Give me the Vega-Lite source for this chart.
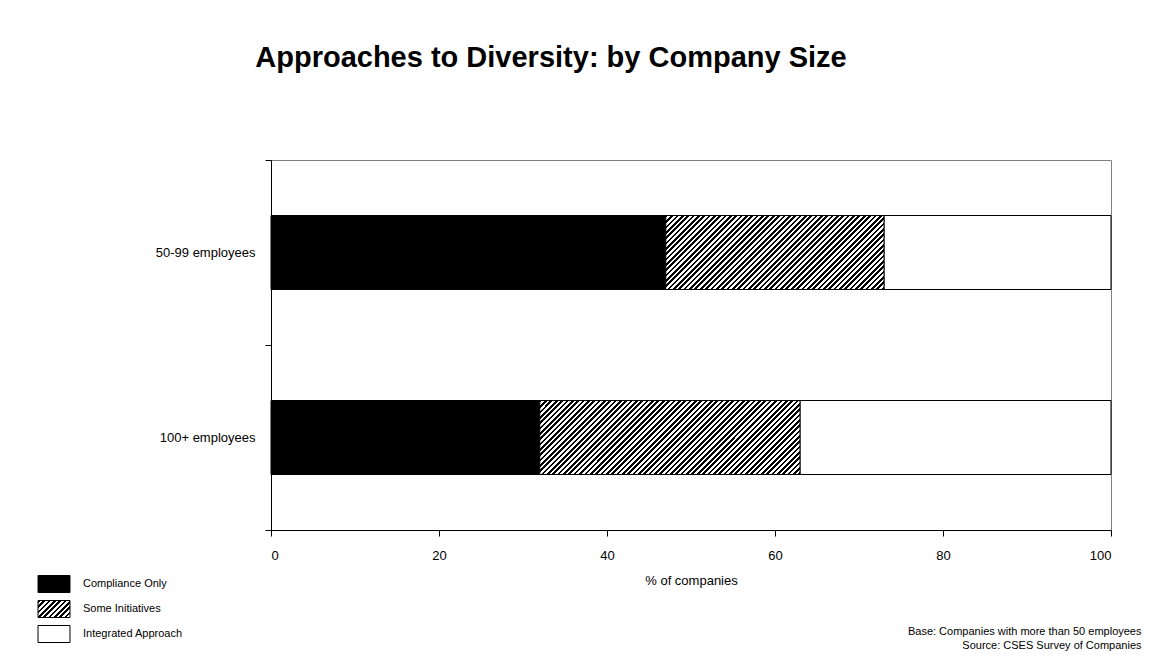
{
  "$schema": "https://vega.github.io/schema/vega-lite/v6.json",
  "autosize": "none",
  "width": 840,
  "height": 370,
  "padding": {"left": 271, "top": 160, "right": 43, "bottom": 132},
  "background": "white",
  "title": {
    "text": "Approaches to Diversity: by Company Size",
    "font": "Liberation Sans",
    "fontSize": 29,
    "fontWeight": "bold",
    "color": "#000",
    "anchor": "middle",
    "frame": "group",
    "dx": -140,
    "baseline": "alphabetic",
    "offset": 58
  },
  "data": {
    "values": [
      {"group": "50-99 employees", "approach": "Compliance Only", "rank": 1, "pct": 47},
      {"group": "50-99 employees", "approach": "Some Initiatives", "rank": 2, "pct": 26},
      {"group": "50-99 employees", "approach": "Integrated Approach", "rank": 3, "pct": 27},
      {"group": "100+ employees", "approach": "Compliance Only", "rank": 1, "pct": 32},
      {"group": "100+ employees", "approach": "Some Initiatives", "rank": 2, "pct": 31},
      {"group": "100+ employees", "approach": "Integrated Approach", "rank": 3, "pct": 37}
    ]
  },
  "mark": {"type": "bar", "height": {"band": 0.4}, "strokeWidth": 1},
  "encoding": {
    "y": {
      "field": "group",
      "type": "nominal",
      "sort": ["50-99 employees", "100+ employees"],
      "scale": {"paddingInner": 0, "paddingOuter": 0},
      "axis": {
        "title": ["Base: Companies with more than 50 employees", "Source: CSES Survey of Companies"],
        "titleAngle": 0,
        "titleAlign": "right",
        "titleBaseline": "top",
        "titleX": 870,
        "titleY": 465,
        "titleFontSize": 11,
        "titleLineHeight": 14,
        "labelFontSize": 13,
        "labelPadding": 10,
        "tickSize": 6,
        "tickBand": "extent"
      }
    },
    "x": {
      "field": "pct",
      "type": "quantitative",
      "stack": "zero",
      "scale": {"domain": [0, 100], "nice": false},
      "axis": {
        "title": "% of companies",
        "values": [0, 20, 40, 60, 80, 100],
        "labelFontSize": 13,
        "labelPadding": 13,
        "tickSize": 6,
        "titleFontSize": 13,
        "titlePadding": 12
      }
    },
    "order": {"field": "rank", "type": "quantitative"},
    "stroke": {
      "field": "approach",
      "type": "nominal",
      "sort": ["Compliance Only", "Some Initiatives", "Integrated Approach"],
      "scale": {
        "domain": ["Compliance Only", "Some Initiatives", "Integrated Approach"],
        "range": ["#000", "#000", "#000"]
      },
      "legend": {
        "orient": "none",
        "legendX": -226,
        "legendY": 415,
        "title": null,
        "padding": 0,
        "symbolType": "M-1.88,-1H1.88V1H-1.88Z",
        "symbolSize": 289,
        "symbolStrokeWidth": 1,
        "symbolOpacity": 1,
        "labelFontSize": 11,
        "labelColor": "#000",
        "labelOffset": 20,
        "rowPadding": 3
      }
    },
    "fill": {
      "field": "approach",
      "type": "nominal",
      "sort": ["Compliance Only", "Some Initiatives", "Integrated Approach"],
      "scale": {
        "domain": ["Compliance Only", "Some Initiatives", "Integrated Approach"],
        "range": [
          "#000",
          {"expr": "{gradient: 'linear', x1: 0, y1: 0, x2: 8.14, y2: 4.32, stops: [{offset: 0, color: '#000'}, {offset: 0.008, color: '#000'}, {offset: 0.008, color: '#fff'}, {offset: 0.016, color: '#fff'}, {offset: 0.016, color: '#000'}, {offset: 0.024, color: '#000'}, {offset: 0.024, color: '#fff'}, {offset: 0.032, color: '#fff'}, {offset: 0.032, color: '#000'}, {offset: 0.04, color: '#000'}, {offset: 0.04, color: '#fff'}, {offset: 0.048, color: '#fff'}, {offset: 0.048, color: '#000'}, {offset: 0.056, color: '#000'}, {offset: 0.056, color: '#fff'}, {offset: 0.064, color: '#fff'}, {offset: 0.064, color: '#000'}, {offset: 0.072, color: '#000'}, {offset: 0.072, color: '#fff'}, {offset: 0.08, color: '#fff'}, {offset: 0.08, color: '#000'}, {offset: 0.088, color: '#000'}, {offset: 0.088, color: '#fff'}, {offset: 0.096, color: '#fff'}, {offset: 0.096, color: '#000'}, {offset: 0.104, color: '#000'}, {offset: 0.104, color: '#fff'}, {offset: 0.112, color: '#fff'}, {offset: 0.112, color: '#000'}, {offset: 0.12, color: '#000'}, {offset: 0.12, color: '#fff'}, {offset: 0.128, color: '#fff'}, {offset: 0.128, color: '#000'}, {offset: 0.136, color: '#000'}, {offset: 0.136, color: '#fff'}, {offset: 0.144, color: '#fff'}, {offset: 0.144, color: '#000'}, {offset: 0.152, color: '#000'}, {offset: 0.152, color: '#fff'}, {offset: 0.16, color: '#fff'}]}"},
          "#fff"
        ]
      },
      "condition": [
        {
          "test": "datum.approach === 'Some Initiatives' && datum.group === '50-99 employees'",
          "value": {"gradient": "linear", "x1": 0, "y1": 0, "x2": 1.374, "y2": 0.4656, "stops": [
            {"offset":0,"color":"#000"},
            {"offset":0.008,"color":"#000"},{"offset":0.008,"color":"#fff"},
            {"offset":0.016,"color":"#fff"},{"offset":0.016,"color":"#000"},
            {"offset":0.024,"color":"#000"},{"offset":0.024,"color":"#fff"},
            {"offset":0.032,"color":"#fff"},{"offset":0.032,"color":"#000"},
            {"offset":0.04,"color":"#000"},{"offset":0.04,"color":"#fff"},
            {"offset":0.048,"color":"#fff"},{"offset":0.048,"color":"#000"},
            {"offset":0.056,"color":"#000"},{"offset":0.056,"color":"#fff"},
            {"offset":0.064,"color":"#fff"},{"offset":0.064,"color":"#000"},
            {"offset":0.072,"color":"#000"},{"offset":0.072,"color":"#fff"},
            {"offset":0.08,"color":"#fff"},{"offset":0.08,"color":"#000"},
            {"offset":0.088,"color":"#000"},{"offset":0.088,"color":"#fff"},
            {"offset":0.096,"color":"#fff"},{"offset":0.096,"color":"#000"},
            {"offset":0.104,"color":"#000"},{"offset":0.104,"color":"#fff"},
            {"offset":0.112,"color":"#fff"},{"offset":0.112,"color":"#000"},
            {"offset":0.12,"color":"#000"},{"offset":0.12,"color":"#fff"},
            {"offset":0.128,"color":"#fff"},{"offset":0.128,"color":"#000"},
            {"offset":0.136,"color":"#000"},{"offset":0.136,"color":"#fff"},
            {"offset":0.144,"color":"#fff"},{"offset":0.144,"color":"#000"},
            {"offset":0.152,"color":"#000"},{"offset":0.152,"color":"#fff"},
            {"offset":0.16,"color":"#fff"},{"offset":0.16,"color":"#000"},
            {"offset":0.168,"color":"#000"},{"offset":0.168,"color":"#fff"},
            {"offset":0.176,"color":"#fff"},{"offset":0.176,"color":"#000"},
            {"offset":0.184,"color":"#000"},{"offset":0.184,"color":"#fff"},
            {"offset":0.192,"color":"#fff"},{"offset":0.192,"color":"#000"},
            {"offset":0.2,"color":"#000"},{"offset":0.2,"color":"#fff"},
            {"offset":0.208,"color":"#fff"},{"offset":0.208,"color":"#000"},
            {"offset":0.216,"color":"#000"},{"offset":0.216,"color":"#fff"},
            {"offset":0.224,"color":"#fff"},{"offset":0.224,"color":"#000"},
            {"offset":0.232,"color":"#000"},{"offset":0.232,"color":"#fff"},
            {"offset":0.24,"color":"#fff"},{"offset":0.24,"color":"#000"},
            {"offset":0.248,"color":"#000"},{"offset":0.248,"color":"#fff"},
            {"offset":0.256,"color":"#fff"},{"offset":0.256,"color":"#000"},
            {"offset":0.264,"color":"#000"},{"offset":0.264,"color":"#fff"},
            {"offset":0.272,"color":"#fff"},{"offset":0.272,"color":"#000"},
            {"offset":0.28,"color":"#000"},{"offset":0.28,"color":"#fff"},
            {"offset":0.288,"color":"#fff"},{"offset":0.288,"color":"#000"},
            {"offset":0.296,"color":"#000"},{"offset":0.296,"color":"#fff"},
            {"offset":0.304,"color":"#fff"},{"offset":0.304,"color":"#000"},
            {"offset":0.312,"color":"#000"},{"offset":0.312,"color":"#fff"},
            {"offset":0.32,"color":"#fff"},{"offset":0.32,"color":"#000"},
            {"offset":0.328,"color":"#000"},{"offset":0.328,"color":"#fff"},
            {"offset":0.336,"color":"#fff"},{"offset":0.336,"color":"#000"},
            {"offset":0.344,"color":"#000"},{"offset":0.344,"color":"#fff"},
            {"offset":0.352,"color":"#fff"},{"offset":0.352,"color":"#000"},
            {"offset":0.36,"color":"#000"},{"offset":0.36,"color":"#fff"},
            {"offset":0.368,"color":"#fff"},{"offset":0.368,"color":"#000"},
            {"offset":0.376,"color":"#000"},{"offset":0.376,"color":"#fff"},
            {"offset":0.384,"color":"#fff"},{"offset":0.384,"color":"#000"},
            {"offset":0.392,"color":"#000"},{"offset":0.392,"color":"#fff"},
            {"offset":0.4,"color":"#fff"},{"offset":0.4,"color":"#000"},
            {"offset":0.408,"color":"#000"},{"offset":0.408,"color":"#fff"},
            {"offset":0.416,"color":"#fff"},{"offset":0.416,"color":"#000"},
            {"offset":0.424,"color":"#000"},{"offset":0.424,"color":"#fff"},
            {"offset":0.432,"color":"#fff"},{"offset":0.432,"color":"#000"},
            {"offset":0.44,"color":"#000"},{"offset":0.44,"color":"#fff"},
            {"offset":0.448,"color":"#fff"},{"offset":0.448,"color":"#000"},
            {"offset":0.456,"color":"#000"},{"offset":0.456,"color":"#fff"},
            {"offset":0.464,"color":"#fff"},{"offset":0.464,"color":"#000"},
            {"offset":0.472,"color":"#000"},{"offset":0.472,"color":"#fff"},
            {"offset":0.48,"color":"#fff"},{"offset":0.48,"color":"#000"},
            {"offset":0.488,"color":"#000"},{"offset":0.488,"color":"#fff"},
            {"offset":0.496,"color":"#fff"},{"offset":0.496,"color":"#000"},
            {"offset":0.504,"color":"#000"},{"offset":0.504,"color":"#fff"},
            {"offset":0.512,"color":"#fff"},{"offset":0.512,"color":"#000"},
            {"offset":0.52,"color":"#000"},{"offset":0.52,"color":"#fff"},
            {"offset":0.528,"color":"#fff"},{"offset":0.528,"color":"#000"},
            {"offset":0.536,"color":"#000"},{"offset":0.536,"color":"#fff"},
            {"offset":0.544,"color":"#fff"},{"offset":0.544,"color":"#000"},
            {"offset":0.552,"color":"#000"},{"offset":0.552,"color":"#fff"},
            {"offset":0.56,"color":"#fff"},{"offset":0.56,"color":"#000"},
            {"offset":0.568,"color":"#000"},{"offset":0.568,"color":"#fff"},
            {"offset":0.576,"color":"#fff"},{"offset":0.576,"color":"#000"},
            {"offset":0.584,"color":"#000"},{"offset":0.584,"color":"#fff"},
            {"offset":0.592,"color":"#fff"},{"offset":0.592,"color":"#000"},
            {"offset":0.6,"color":"#000"},{"offset":0.6,"color":"#fff"},
            {"offset":0.608,"color":"#fff"},{"offset":0.608,"color":"#000"},
            {"offset":0.616,"color":"#000"},{"offset":0.616,"color":"#fff"},
            {"offset":0.624,"color":"#fff"},{"offset":0.624,"color":"#000"},
            {"offset":0.632,"color":"#000"},{"offset":0.632,"color":"#fff"},
            {"offset":0.64,"color":"#fff"},{"offset":0.64,"color":"#000"},
            {"offset":0.648,"color":"#000"},{"offset":0.648,"color":"#fff"},
            {"offset":0.656,"color":"#fff"},{"offset":0.656,"color":"#000"},
            {"offset":0.664,"color":"#000"},{"offset":0.664,"color":"#fff"},
            {"offset":0.672,"color":"#fff"},{"offset":0.672,"color":"#000"},
            {"offset":0.68,"color":"#000"},{"offset":0.68,"color":"#fff"},
            {"offset":0.688,"color":"#fff"},{"offset":0.688,"color":"#000"},
            {"offset":0.696,"color":"#000"},{"offset":0.696,"color":"#fff"},
            {"offset":0.704,"color":"#fff"},{"offset":0.704,"color":"#000"},
            {"offset":0.712,"color":"#000"},{"offset":0.712,"color":"#fff"},
            {"offset":0.72,"color":"#fff"},{"offset":0.72,"color":"#000"},
            {"offset":0.728,"color":"#000"},{"offset":0.728,"color":"#fff"},
            {"offset":0.736,"color":"#fff"},{"offset":0.736,"color":"#000"},
            {"offset":0.744,"color":"#000"},{"offset":0.744,"color":"#fff"},
            {"offset":0.752,"color":"#fff"},{"offset":0.752,"color":"#000"},
            {"offset":0.76,"color":"#000"},{"offset":0.76,"color":"#fff"},
            {"offset":0.768,"color":"#fff"},{"offset":0.768,"color":"#000"},
            {"offset":0.776,"color":"#000"},{"offset":0.776,"color":"#fff"},
            {"offset":0.784,"color":"#fff"},{"offset":0.784,"color":"#000"},
            {"offset":0.792,"color":"#000"},{"offset":0.792,"color":"#fff"},
            {"offset":0.8,"color":"#fff"},{"offset":0.8,"color":"#000"},
            {"offset":0.808,"color":"#000"},{"offset":0.808,"color":"#fff"},
            {"offset":0.816,"color":"#fff"},{"offset":0.816,"color":"#000"},
            {"offset":0.824,"color":"#000"},{"offset":0.824,"color":"#fff"},
            {"offset":0.832,"color":"#fff"},{"offset":0.832,"color":"#000"},
            {"offset":0.84,"color":"#000"},{"offset":0.84,"color":"#fff"},
            {"offset":0.848,"color":"#fff"},{"offset":0.848,"color":"#000"},
            {"offset":0.856,"color":"#000"},{"offset":0.856,"color":"#fff"},
            {"offset":0.864,"color":"#fff"},{"offset":0.864,"color":"#000"},
            {"offset":0.872,"color":"#000"},{"offset":0.872,"color":"#fff"},
            {"offset":0.88,"color":"#fff"},{"offset":0.88,"color":"#000"},
            {"offset":0.888,"color":"#000"},{"offset":0.888,"color":"#fff"},
            {"offset":0.896,"color":"#fff"}
          ]}
        },
        {
          "test": "datum.approach === 'Some Initiatives' && datum.group === '100+ employees'",
          "value": {"gradient": "linear", "x1": 0, "y1": 0, "x2": 1.188, "y2": 0.3375, "stops": [
            {"offset":0,"color":"#000"},
            {"offset":0.008,"color":"#000"},{"offset":0.008,"color":"#fff"},
            {"offset":0.016,"color":"#fff"},{"offset":0.016,"color":"#000"},
            {"offset":0.024,"color":"#000"},{"offset":0.024,"color":"#fff"},
            {"offset":0.032,"color":"#fff"},{"offset":0.032,"color":"#000"},
            {"offset":0.04,"color":"#000"},{"offset":0.04,"color":"#fff"},
            {"offset":0.048,"color":"#fff"},{"offset":0.048,"color":"#000"},
            {"offset":0.056,"color":"#000"},{"offset":0.056,"color":"#fff"},
            {"offset":0.064,"color":"#fff"},{"offset":0.064,"color":"#000"},
            {"offset":0.072,"color":"#000"},{"offset":0.072,"color":"#fff"},
            {"offset":0.08,"color":"#fff"},{"offset":0.08,"color":"#000"},
            {"offset":0.088,"color":"#000"},{"offset":0.088,"color":"#fff"},
            {"offset":0.096,"color":"#fff"},{"offset":0.096,"color":"#000"},
            {"offset":0.104,"color":"#000"},{"offset":0.104,"color":"#fff"},
            {"offset":0.112,"color":"#fff"},{"offset":0.112,"color":"#000"},
            {"offset":0.12,"color":"#000"},{"offset":0.12,"color":"#fff"},
            {"offset":0.128,"color":"#fff"},{"offset":0.128,"color":"#000"},
            {"offset":0.136,"color":"#000"},{"offset":0.136,"color":"#fff"},
            {"offset":0.144,"color":"#fff"},{"offset":0.144,"color":"#000"},
            {"offset":0.152,"color":"#000"},{"offset":0.152,"color":"#fff"},
            {"offset":0.16,"color":"#fff"},{"offset":0.16,"color":"#000"},
            {"offset":0.168,"color":"#000"},{"offset":0.168,"color":"#fff"},
            {"offset":0.176,"color":"#fff"},{"offset":0.176,"color":"#000"},
            {"offset":0.184,"color":"#000"},{"offset":0.184,"color":"#fff"},
            {"offset":0.192,"color":"#fff"},{"offset":0.192,"color":"#000"},
            {"offset":0.2,"color":"#000"},{"offset":0.2,"color":"#fff"},
            {"offset":0.208,"color":"#fff"},{"offset":0.208,"color":"#000"},
            {"offset":0.216,"color":"#000"},{"offset":0.216,"color":"#fff"},
            {"offset":0.224,"color":"#fff"},{"offset":0.224,"color":"#000"},
            {"offset":0.232,"color":"#000"},{"offset":0.232,"color":"#fff"},
            {"offset":0.24,"color":"#fff"},{"offset":0.24,"color":"#000"},
            {"offset":0.248,"color":"#000"},{"offset":0.248,"color":"#fff"},
            {"offset":0.256,"color":"#fff"},{"offset":0.256,"color":"#000"},
            {"offset":0.264,"color":"#000"},{"offset":0.264,"color":"#fff"},
            {"offset":0.272,"color":"#fff"},{"offset":0.272,"color":"#000"},
            {"offset":0.28,"color":"#000"},{"offset":0.28,"color":"#fff"},
            {"offset":0.288,"color":"#fff"},{"offset":0.288,"color":"#000"},
            {"offset":0.296,"color":"#000"},{"offset":0.296,"color":"#fff"},
            {"offset":0.304,"color":"#fff"},{"offset":0.304,"color":"#000"},
            {"offset":0.312,"color":"#000"},{"offset":0.312,"color":"#fff"},
            {"offset":0.32,"color":"#fff"},{"offset":0.32,"color":"#000"},
            {"offset":0.328,"color":"#000"},{"offset":0.328,"color":"#fff"},
            {"offset":0.336,"color":"#fff"},{"offset":0.336,"color":"#000"},
            {"offset":0.344,"color":"#000"},{"offset":0.344,"color":"#fff"},
            {"offset":0.352,"color":"#fff"},{"offset":0.352,"color":"#000"},
            {"offset":0.36,"color":"#000"},{"offset":0.36,"color":"#fff"},
            {"offset":0.368,"color":"#fff"},{"offset":0.368,"color":"#000"},
            {"offset":0.376,"color":"#000"},{"offset":0.376,"color":"#fff"},
            {"offset":0.384,"color":"#fff"},{"offset":0.384,"color":"#000"},
            {"offset":0.392,"color":"#000"},{"offset":0.392,"color":"#fff"},
            {"offset":0.4,"color":"#fff"},{"offset":0.4,"color":"#000"},
            {"offset":0.408,"color":"#000"},{"offset":0.408,"color":"#fff"},
            {"offset":0.416,"color":"#fff"},{"offset":0.416,"color":"#000"},
            {"offset":0.424,"color":"#000"},{"offset":0.424,"color":"#fff"},
            {"offset":0.432,"color":"#fff"},{"offset":0.432,"color":"#000"},
            {"offset":0.44,"color":"#000"},{"offset":0.44,"color":"#fff"},
            {"offset":0.448,"color":"#fff"},{"offset":0.448,"color":"#000"},
            {"offset":0.456,"color":"#000"},{"offset":0.456,"color":"#fff"},
            {"offset":0.464,"color":"#fff"},{"offset":0.464,"color":"#000"},
            {"offset":0.472,"color":"#000"},{"offset":0.472,"color":"#fff"},
            {"offset":0.48,"color":"#fff"},{"offset":0.48,"color":"#000"},
            {"offset":0.488,"color":"#000"},{"offset":0.488,"color":"#fff"},
            {"offset":0.496,"color":"#fff"},{"offset":0.496,"color":"#000"},
            {"offset":0.504,"color":"#000"},{"offset":0.504,"color":"#fff"},
            {"offset":0.512,"color":"#fff"},{"offset":0.512,"color":"#000"},
            {"offset":0.52,"color":"#000"},{"offset":0.52,"color":"#fff"},
            {"offset":0.528,"color":"#fff"},{"offset":0.528,"color":"#000"},
            {"offset":0.536,"color":"#000"},{"offset":0.536,"color":"#fff"},
            {"offset":0.544,"color":"#fff"},{"offset":0.544,"color":"#000"},
            {"offset":0.552,"color":"#000"},{"offset":0.552,"color":"#fff"},
            {"offset":0.56,"color":"#fff"},{"offset":0.56,"color":"#000"},
            {"offset":0.568,"color":"#000"},{"offset":0.568,"color":"#fff"},
            {"offset":0.576,"color":"#fff"},{"offset":0.576,"color":"#000"},
            {"offset":0.584,"color":"#000"},{"offset":0.584,"color":"#fff"},
            {"offset":0.592,"color":"#fff"},{"offset":0.592,"color":"#000"},
            {"offset":0.6,"color":"#000"},{"offset":0.6,"color":"#fff"},
            {"offset":0.608,"color":"#fff"},{"offset":0.608,"color":"#000"},
            {"offset":0.616,"color":"#000"},{"offset":0.616,"color":"#fff"},
            {"offset":0.624,"color":"#fff"},{"offset":0.624,"color":"#000"},
            {"offset":0.632,"color":"#000"},{"offset":0.632,"color":"#fff"},
            {"offset":0.64,"color":"#fff"},{"offset":0.64,"color":"#000"},
            {"offset":0.648,"color":"#000"},{"offset":0.648,"color":"#fff"},
            {"offset":0.656,"color":"#fff"},{"offset":0.656,"color":"#000"},
            {"offset":0.664,"color":"#000"},{"offset":0.664,"color":"#fff"},
            {"offset":0.672,"color":"#fff"},{"offset":0.672,"color":"#000"},
            {"offset":0.68,"color":"#000"},{"offset":0.68,"color":"#fff"},
            {"offset":0.688,"color":"#fff"},{"offset":0.688,"color":"#000"},
            {"offset":0.696,"color":"#000"},{"offset":0.696,"color":"#fff"},
            {"offset":0.704,"color":"#fff"},{"offset":0.704,"color":"#000"},
            {"offset":0.712,"color":"#000"},{"offset":0.712,"color":"#fff"},
            {"offset":0.72,"color":"#fff"},{"offset":0.72,"color":"#000"},
            {"offset":0.728,"color":"#000"},{"offset":0.728,"color":"#fff"},
            {"offset":0.736,"color":"#fff"},{"offset":0.736,"color":"#000"},
            {"offset":0.744,"color":"#000"},{"offset":0.744,"color":"#fff"},
            {"offset":0.752,"color":"#fff"},{"offset":0.752,"color":"#000"},
            {"offset":0.76,"color":"#000"},{"offset":0.76,"color":"#fff"},
            {"offset":0.768,"color":"#fff"},{"offset":0.768,"color":"#000"},
            {"offset":0.776,"color":"#000"},{"offset":0.776,"color":"#fff"},
            {"offset":0.784,"color":"#fff"},{"offset":0.784,"color":"#000"},
            {"offset":0.792,"color":"#000"},{"offset":0.792,"color":"#fff"},
            {"offset":0.8,"color":"#fff"},{"offset":0.8,"color":"#000"},
            {"offset":0.808,"color":"#000"},{"offset":0.808,"color":"#fff"},
            {"offset":0.816,"color":"#fff"},{"offset":0.816,"color":"#000"},
            {"offset":0.824,"color":"#000"},{"offset":0.824,"color":"#fff"},
            {"offset":0.832,"color":"#fff"},{"offset":0.832,"color":"#000"},
            {"offset":0.84,"color":"#000"},{"offset":0.84,"color":"#fff"},
            {"offset":0.848,"color":"#fff"},{"offset":0.848,"color":"#000"},
            {"offset":0.856,"color":"#000"},{"offset":0.856,"color":"#fff"},
            {"offset":0.864,"color":"#fff"},{"offset":0.864,"color":"#000"},
            {"offset":0.872,"color":"#000"},{"offset":0.872,"color":"#fff"},
            {"offset":0.88,"color":"#fff"},{"offset":0.88,"color":"#000"},
            {"offset":0.888,"color":"#000"},{"offset":0.888,"color":"#fff"},
            {"offset":0.896,"color":"#fff"},{"offset":0.896,"color":"#000"},
            {"offset":0.904,"color":"#000"},{"offset":0.904,"color":"#fff"},
            {"offset":0.912,"color":"#fff"},{"offset":0.912,"color":"#000"},
            {"offset":0.92,"color":"#000"},{"offset":0.92,"color":"#fff"},
            {"offset":0.928,"color":"#fff"},{"offset":0.928,"color":"#000"},
            {"offset":0.936,"color":"#000"},{"offset":0.936,"color":"#fff"},
            {"offset":0.944,"color":"#fff"},{"offset":0.944,"color":"#000"},
            {"offset":0.952,"color":"#000"},{"offset":0.952,"color":"#fff"},
            {"offset":0.96,"color":"#fff"},{"offset":0.96,"color":"#000"},
            {"offset":0.968,"color":"#000"},{"offset":0.968,"color":"#fff"},
            {"offset":0.976,"color":"#fff"},{"offset":0.976,"color":"#000"},
            {"offset":0.984,"color":"#000"},{"offset":0.984,"color":"#fff"},
            {"offset":0.992,"color":"#fff"},{"offset":0.992,"color":"#000"},
            {"offset":1,"color":"#000"}
          ]}
        }
      ],
      "legend": {
        "orient": "none",
        "legendX": -226,
        "legendY": 415,
        "title": null,
        "padding": 0,
        "symbolType": "M-1.88,-1H1.88V1H-1.88Z",
        "symbolSize": 289,
        "symbolStrokeWidth": 1,
        "symbolOpacity": 1,
        "labelFontSize": 11,
        "labelColor": "#000",
        "labelOffset": 20,
        "rowPadding": 3
      }
    }
  },
  "config": {
    "font": "Liberation Sans",
    "view": {"stroke": "#808080", "strokeWidth": 1},
    "axis": {
      "grid": false,
      "domainColor": "#000",
      "tickColor": "#000",
      "labelColor": "#000",
      "titleColor": "#000",
      "titleFontWeight": "normal"
    }
  }
}
